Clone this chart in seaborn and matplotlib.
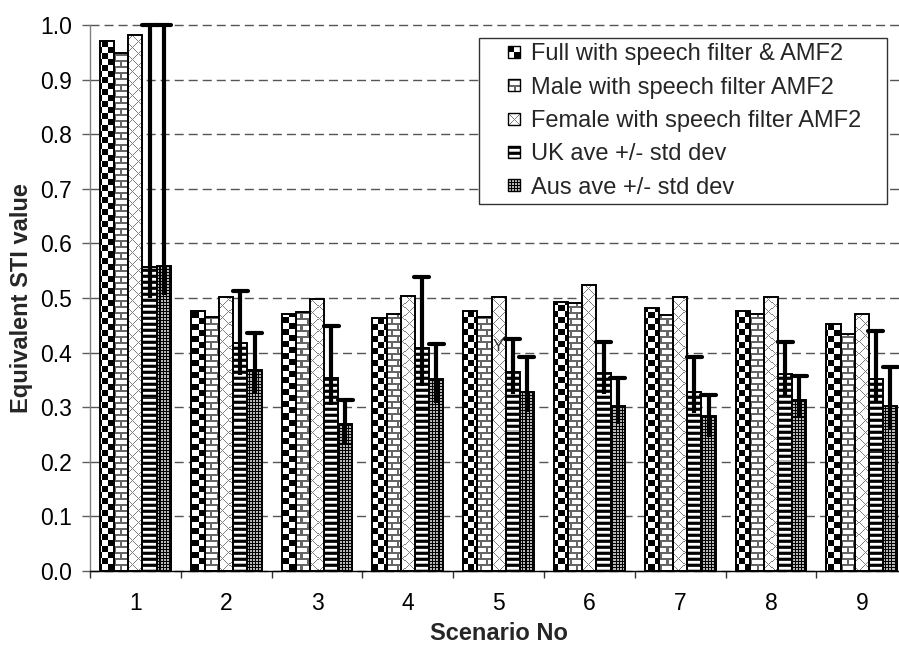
import numpy as np
import pandas as pd
import matplotlib
matplotlib.use("Agg")
import matplotlib.pyplot as plt
import seaborn as sns
from matplotlib.patches import Rectangle, Patch
from matplotlib.legend_handler import HandlerBase
from matplotlib.ticker import FixedLocator

# ---------------- data ----------------
scenarios = ["1", "2", "3", "4", "5", "6", "7", "8", "9"]
series = ["Full with speech filter & AMF2",
          "Male with speech filter AMF2",
          "Female with speech filter AMF2",
          "UK ave +/- std dev",
          "Aus ave +/- std dev"]
full = [0.971, 0.476, 0.471, 0.463, 0.477, 0.493, 0.481, 0.477, 0.452]
male = [0.948, 0.466, 0.474, 0.471, 0.466, 0.490, 0.468, 0.471, 0.434]
female = [0.982, 0.502, 0.498, 0.504, 0.502, 0.523, 0.502, 0.502, 0.471]
uk = [0.557, 0.418, 0.353, 0.409, 0.365, 0.362, 0.327, 0.361, 0.352]
uk_hi = [1.000, 0.513, 0.448, 0.539, 0.425, 0.419, 0.392, 0.419, 0.440]
uk_lo = [0.500, 0.359, 0.304, 0.338, 0.325, 0.325, 0.290, 0.322, 0.310]
aus = [0.559, 0.369, 0.270, 0.352, 0.328, 0.303, 0.283, 0.314, 0.302]
aus_hi = [1.000, 0.435, 0.313, 0.416, 0.392, 0.354, 0.323, 0.357, 0.373]
aus_lo = [0.505, 0.325, 0.230, 0.308, 0.292, 0.270, 0.245, 0.280, 0.260]
yticks = [0.0, 0.1, 0.2, 0.3, 0.4, 0.5, 0.6, 0.7, 0.8, 0.9, 1.0]

df = pd.DataFrame({
    "Scenario": scenarios * 5,
    "Series": np.repeat(series, len(scenarios)),
    "STI": full + male + female + uk + aus,
})

# ---------------- fill patterns (pixel based) ----------------
def pat_full(px, py):
    return (((px // 6) + (py // 6)) % 2).astype(float)

def pat_male(px, py):
    r = py % 12
    c = px % 12
    horiz = (r <= 1) | ((r >= 6) & (r <= 7))
    vert = (((r >= 2) & (r <= 5)) & (c <= 1)) | ((r >= 8) & ((c >= 6) & (c <= 7)))
    return np.where(horiz | vert, 0.4, 1.0)

def pat_female(px, py):
    d = ((px - py) % 12 == 0) | ((px + py) % 12 == 0)
    return np.where(d, 0.5, 1.0)

def pat_uk(px, py):
    lut = np.array([0.0, 0.0, 0.15, 1.0, 1.0, 0.7])
    return lut[py % 6] + 0 * px

def pat_aus(px, py):
    g = (px % 3 == 0) | (py % 3 == 0)
    return np.where(g, 0.0, 0.72)

patterns = [pat_full, pat_male, pat_female, pat_uk, pat_aus]

# ---------------- figure ----------------
sns.set_style("white")
plt.rcParams["font.family"] = ["Liberation Sans", "DejaVu Sans"]

W, H = 899, 648
fig = plt.figure(figsize=(W / 100, H / 100), dpi=100)
ax = fig.add_axes([90 / W, 77 / H, 817.2 / W, 546 / H])

sns.barplot(data=df, x="Scenario", y="STI", hue="Series", order=scenarios,
            hue_order=series, palette=["white"] * 5, saturation=1,
            edgecolor="black", linewidth=1.4, width=0.78, errorbar=None,
            legend=False, ax=ax)

ax.set_xlim(-0.5, 8.5)
ax.set_ylim(0, 1.0)
ax.set_autoscale_on(False)

# texture each bar
fig.canvas.draw()
T = ax.transData
Tinv = T.inverted()
for cont, func in zip(ax.containers, patterns):
    for p in cont.patches:
        x0, w, h = p.get_x(), p.get_width(), p.get_height()
        dx0, dy0 = T.transform((x0, 0))
        dx1, dy1 = T.transform((x0 + w, h))
        c0, c1 = int(np.floor(dx0)), int(np.ceil(dx1))
        rt, rb = int(np.floor(H - dy1)), int(np.ceil(H - dy0))
        pxs = np.arange(c0, c1)[None, :]
        pys = np.arange(rt, rb)[:, None]
        arr = np.broadcast_to(func(pxs, pys), (rb - rt, c1 - c0)).astype(float)
        left, bottom = Tinv.transform((c0, H - rb))
        right, top = Tinv.transform((c1, H - rt))
        im = ax.imshow(arr, extent=(left, right, bottom, top), origin="upper",
                       cmap="gray", vmin=0, vmax=1, interpolation="nearest",
                       aspect="auto", zorder=1.5)
        im.set_clip_path(p)
        p.set_facecolor("none")
        p.set_zorder(2)

ax.set_xlim(-0.5, 8.5)
ax.set_ylim(0, 1.0)

# error bars (upper cap only visible)
cap = 7.5 / 90.8
for cont, lo, hi in [(ax.containers[3], uk_lo, uk_hi), (ax.containers[4], aus_lo, aus_hi)]:
    xs = np.array([p.get_x() + p.get_width() / 2 for p in cont.patches])
    ax.vlines(xs, lo, hi, colors="black", linewidth=3.0, zorder=3, clip_on=False)
    ax.hlines(hi, xs - cap, xs + cap, colors="black", linewidth=3.0,
              zorder=3, capstyle="round", clip_on=False)

ax.text(4.0, 0.411, "Y", fontsize=12, color="#333333", ha="center", va="center", zorder=4)

# grid / axes styling
ax.set_yticks(yticks)
ax.set_yticklabels([f"{v:.1f}" for v in yticks])
ax.set_axisbelow(True)
ax.yaxis.grid(True, color="#555555", linewidth=1.0, linestyle=(0, (6.5, 3.6)))
for gl in ax.get_ygridlines():
    gl.set_clip_on(False)
ax.xaxis.grid(False)

ax.set_xticks(range(len(scenarios)))
ax.set_xticklabels(scenarios)
ax.xaxis.set_minor_locator(FixedLocator(np.arange(-0.5, 9.0, 1.0)))
ax.tick_params(axis="x", which="major", bottom=True, length=0, pad=15,
               labelsize=16.5, labelcolor="black")
ax.tick_params(axis="x", which="minor", bottom=True, length=5.0, width=1.0,
               color="#333333", direction="out")
ax.tick_params(axis="y", which="major", left=True, length=5.8, width=1.0,
               color="#606060", pad=7.2, labelsize=16.5, labelcolor="black")

for s in ["top", "right"]:
    ax.spines[s].set_visible(False)
ax.spines["left"].set_color("#808080")
ax.spines["left"].set_linewidth(1.0)
ax.spines["bottom"].set_color("black")
ax.spines["bottom"].set_linewidth(1.0)

ax.set_xlabel("Scenario No", fontsize=17, fontweight="bold")
ax.xaxis.set_label_coords(0.5, -0.094)
ax.set_ylabel("Equivalent STI value", fontsize=17, fontweight="bold")
ax.yaxis.set_label_coords(-0.0698, 0.5)

# ---------------- legend with pattern icons ----------------
class PatternHandler(HandlerBase):
    def __init__(self, func):
        super().__init__()
        self.func = func

    def create_artists(self, legend, orig_handle, xdescent, ydescent, width,
                       height, fontsize, trans):
        n = 12
        pt = 0.72
        size = n * pt
        x0 = -xdescent + width - size
        y0 = -ydescent + (height - size) / 2
        arr = np.broadcast_to(self.func(np.arange(n)[None, :], np.arange(n)[:, None]), (n, n))
        arts = [Rectangle((x0, y0), size, size, facecolor="white", edgecolor="none",
                          transform=trans)]
        for r in range(n):
            for c in range(n):
                v = float(arr[r, c])
                if v < 0.99:
                    arts.append(Rectangle((x0 + c * pt, y0 + (n - 1 - r) * pt), pt, pt,
                                          facecolor=str(v), edgecolor="none",
                                          antialiased=False, transform=trans))
        arts.append(Rectangle((x0, y0), size, size, fill=False, edgecolor="black",
                              linewidth=1.0, transform=trans))
        return arts

handles = [Patch(facecolor="white", edgecolor="black") for _ in series]
hmap = {h: PatternHandler(f) for h, f in zip(handles, patterns)}
leg = ax.legend(handles, series, handler_map=hmap, loc="upper left",
                bbox_to_anchor=(479 / W, 1 - 226 / H, 408 / W, 188 / H),
                bbox_transform=fig.transFigure, mode="expand", borderaxespad=0,
                fontsize=17, frameon=True, fancybox=False, shadow=False,
                framealpha=1, edgecolor="#333333", borderpad=0.22,
                labelspacing=0.48, handlelength=1.52, handleheight=0.7,
                handletextpad=0.45)
leg.get_frame().set_linewidth(1.0)
leg.set_zorder(5)

fig.savefig("out.png", dpi=100)
